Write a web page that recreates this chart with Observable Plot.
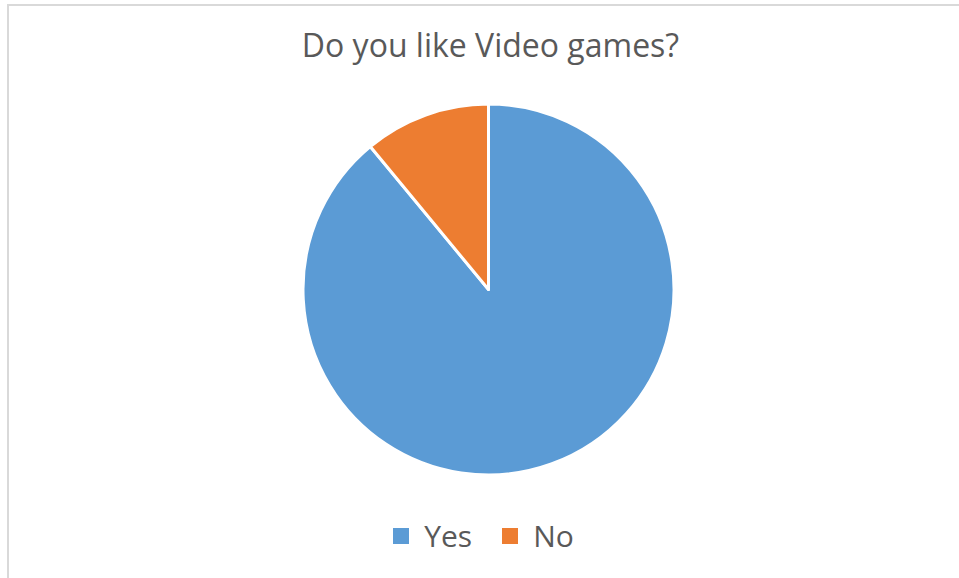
<!DOCTYPE html>
<html>
<head>
<meta charset="utf-8">
<script src="https://cdn.jsdelivr.net/npm/d3@7"></script>
<script src="https://cdn.jsdelivr.net/npm/@observablehq/plot@0.6"></script>
<style>
  html, body { margin: 0; padding: 0; background: #fff; overflow: hidden; }
  #page { position: relative; width: 959px; height: 578px; overflow: hidden; background: #fff; }
  #frame { position: absolute; left: 7px; top: 4px; width: 1000px; height: 1000px; border: 2px solid #d9d9d9; box-sizing: border-box; }
  #chart { position: absolute; left: 0; top: 0; }
  #title { position: absolute; left: 11px; width: 959px; top: 23px; text-align: center;
           font-family: "Open Sans", sans-serif; font-size: 32px; color: #595959; white-space: nowrap; }
  #legend { position: absolute; left: 19px; width: 959px; top: 515px; display: flex; justify-content: center; }
</style>
</head>
<body>
<div id="page">
  <div id="frame"></div>
  <div id="chart"></div>
  <div id="title">Do you like Video games?</div>
  <div id="legend"></div>
</div>
<script>
const answers = ["Yes", "No"];
const counts = [89, 11];
const colors = ["#5B9BD5", "#ED7D31"];

const data = answers.map((a, i) => ({answer: a, count: counts[i]}));
const colorScale = Plot.scale({color: {type: "ordinal", domain: answers, range: colors}});

function pieMark(index, scales, values, dimensions) {
  const cx = 488.5, cy = 289.5, r = 185.5;
  const arcs = d3.pie().sort(null).value(d => d.count)(data);
  const arc = d3.arc().innerRadius(0).outerRadius(r);
  const g = d3.create("svg:g").attr("transform", `translate(${cx},${cy})`);
  g.selectAll("path").data(arcs).join("path")
    .attr("d", arc)
    .attr("fill", d => colorScale.apply(d.data.answer))
    .attr("stroke", "#fff")
    .attr("stroke-width", 3)
    .attr("stroke-linejoin", "round");
  return g.node();
}

const chart = Plot.plot({
  width: 959,
  height: 578,
  style: {background: "transparent"},
  marks: [pieMark]
});
document.getElementById("chart").appendChild(chart);

const legend = Plot.legend({
  color: {type: "ordinal", domain: answers, range: colors},
  swatchSize: 16,
  style: {fontSize: "30px", fontFamily: "'Open Sans', sans-serif", color: "#595959"}
});
document.getElementById("legend").appendChild(legend);
</script>
</body>
</html>
